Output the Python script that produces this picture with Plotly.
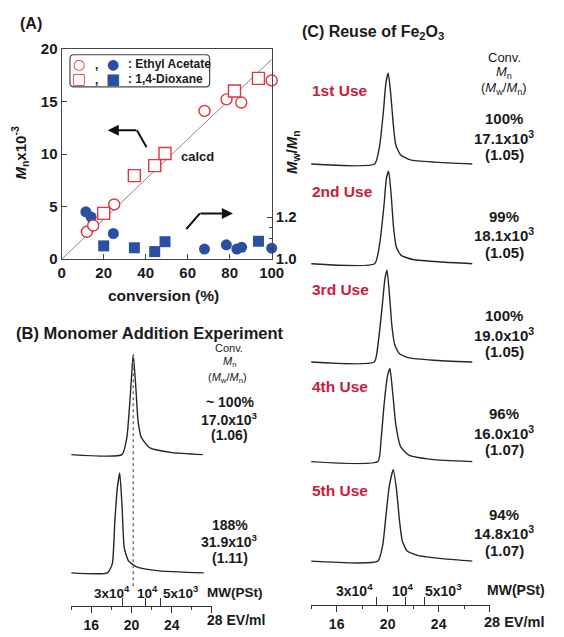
import plotly.graph_objects as go

W, H = 564, 637
def px(x): return x / W
def py(y): return 1 - y / H

F = "Liberation Sans, Arial, sans-serif"
TXT = "#1a1a1a"
RED = "#e0343f"
REDT = "#c8203a"
BLUE = "#2a4fa3"
AX = "#444444"

# ---------------- Panel A data ----------------
ea_conv_mn = [12, 15, 25, 68, 78.5, 85.5, 100]
ea_mn = [2.6, 3.2, 5.2, 14.1, 15.2, 14.9, 17.0]
dx_conv_mn = [20, 34.6, 44.3, 49.2, 82.3, 93.7]
dx_mn = [4.35, 7.95, 8.9, 10.05, 16.0, 17.2]
ea_conv_pdi = [11.5, 14, 24.6, 68, 78.4, 83.4, 85.7, 100]
ea_pdi = [1.225, 1.20, 1.122, 1.048, 1.068, 1.048, 1.056, 1.052]
dx_conv_pdi = [20, 34.6, 44.3, 49.2, 93.7]
dx_pdi = [1.063, 1.054, 1.036, 1.083, 1.085]
calcd_conv = [0, 100]
calcd_mn = [0, 19.0]
a_xticks = [0, 20, 40, 60, 80, 100]
a_yticks = [0, 5, 10, 15, 20]
a_y2ticks = [1.0, 1.2]

# ---------------- Panel B data (GPC, EV in mL, normalized RI) ----------------
b_top_ev = [14.0, 19.06, 19.54, 19.86, 20.08, 20.18, 20.44, 20.66, 20.99, 21.79, 24.04, 27.1]
b_top_i = [0, 0, 0.17, 0.56, 0.89, 1.0, 0.66, 0.33, 0.17, 0.07, 0.02, 0]
b_bot_ev = [14.0, 17.61, 18.09, 18.34, 18.58, 18.83, 19.06, 19.28, 19.70, 20.51, 22.76, 27.2]
b_bot_i = [0, 0, 0.09, 0.51, 0.84, 1.0, 0.67, 0.25, 0.12, 0.06, 0.02, 0]
b_texts = [["~ 100%", "17.0x10<sup>3</sup>", "(1.06)"],
           ["188%", "31.9x10<sup>3</sup>", "(1.11)"]]

# ---------------- Panel C data ----------------
c_ev = [
    [14.0, 18.98, 19.36, 19.67, 19.87, 20.05, 20.25, 20.44, 20.64, 21.02, 21.79, 23.70, 26.64],
    [14.0, 18.98, 19.38, 19.72, 19.90, 20.08, 20.28, 20.46, 20.68, 21.06, 22.00, 24.20, 26.64],
    [14.0, 18.95, 19.26, 19.57, 19.78, 19.95, 20.14, 20.33, 20.55, 20.93, 21.70, 23.60, 26.64],
    [14.0, 19.23, 19.48, 19.74, 19.99, 20.18, 20.39, 20.64, 21.02, 21.66, 23.47, 26.64],
    [14.0, 19.23, 19.62, 19.87, 20.13, 20.44, 20.69, 20.94, 21.15, 21.53, 22.43, 24.47, 26.64],
]
c_i = [
    [0, 0, 0.19, 0.58, 0.90, 1.0, 0.76, 0.44, 0.21, 0.10, 0.046, 0.021, 0],
    [0, 0, 0.22, 0.64, 0.92, 1.0, 0.74, 0.40, 0.18, 0.09, 0.045, 0.018, 0],
    [0, 0, 0.21, 0.60, 0.90, 1.0, 0.74, 0.40, 0.19, 0.09, 0.045, 0.020, 0],
    [0, 0, 0.23, 0.64, 0.92, 1.0, 0.75, 0.40, 0.16, 0.07, 0.024, 0],
    [0, 0, 0.18, 0.50, 0.82, 1.0, 0.79, 0.43, 0.22, 0.11, 0.06, 0.025, 0],
]
c_labels = ["1st Use", "2nd Use", "3rd Use", "4th Use", "5th Use"]
c_conv = ["100%", "99%", "100%", "96%", "94%"]
c_mn = ["17.1x10<sup>3</sup>", "18.1x10<sup>3</sup>", "19.0x10<sup>3</sup>",
        "16.0x10<sup>3</sup>", "14.8x10<sup>3</sup>"]
c_pdi = ["(1.05)", "(1.05)", "(1.05)", "(1.07)", "(1.07)"]

ev_major = [16, 20, 24, 28]
ev_major_text = ["16", "20", "24", ""]
ev_minor = [14, 18, 22, 26]
mw_ev = [19.1, 21.42, 22.9]
mw_text = ["3x10<sup>4</sup>", "10<sup>4</sup>", "5x10<sup>3</sup>"]

fig = go.Figure()

# ---- Panel A traces ----
fig.add_trace(go.Scatter(x=ea_conv_pdi, y=ea_pdi, xaxis="x", yaxis="y", mode="markers",
                         marker=dict(symbol="circle", size=11, color=BLUE), cliponaxis=False))
fig.add_trace(go.Scatter(x=dx_conv_pdi, y=dx_pdi, xaxis="x", yaxis="y", mode="markers",
                         marker=dict(symbol="square", size=11, color=BLUE), cliponaxis=False))
fig.add_trace(go.Scatter(x=calcd_conv, y=calcd_mn, xaxis="x", yaxis="y2", mode="lines",
                         line=dict(color="#8a8a8a", width=1)))
fig.add_trace(go.Scatter(x=ea_conv_mn, y=ea_mn, xaxis="x", yaxis="y2", mode="markers",
                         marker=dict(symbol="circle", size=11, color="white",
                                     line=dict(color=RED, width=1.4)), cliponaxis=False))
fig.add_trace(go.Scatter(x=dx_conv_mn, y=dx_mn, xaxis="x", yaxis="y2", mode="markers",
                         marker=dict(symbol="square", size=12, color="white",
                                     line=dict(color=RED, width=1.4)), cliponaxis=False))

# ---- Panel B traces ----
line_style = dict(color="#262626", width=1.4, shape="spline", smoothing=0.5)
fig.add_trace(go.Scatter(x=b_top_ev, y=b_top_i, xaxis="x3", yaxis="y3", mode="lines", line=line_style))
fig.add_trace(go.Scatter(x=b_bot_ev, y=b_bot_i, xaxis="x3", yaxis="y4", mode="lines", line=line_style))
fig.add_trace(go.Scatter(x=mw_ev, y=[0, 0, 0], xaxis="x4", yaxis="y4", mode="markers",
                         marker=dict(opacity=0), hoverinfo="skip"))

# ---- Panel C traces ----
for k in range(5):
    fig.add_trace(go.Scatter(x=c_ev[k], y=c_i[k], xaxis="x5", yaxis="y%d" % (5 + k),
                             mode="lines", line=line_style))
fig.add_trace(go.Scatter(x=mw_ev, y=[0, 0, 0], xaxis="x6", yaxis="y9", mode="markers",
                         marker=dict(opacity=0), hoverinfo="skip"))

tf = dict(family=F, size=15, color=TXT, weight="bold")
tf2 = dict(family=F, size=14, color=TXT, weight="bold")

def strip(b, p):
    h = b - p
    return [py(b + 0.03 * h), py(p - 0.03 * h)]

hidden = dict(visible=False, range=[-0.03, 1.03], fixedrange=True)

ev_axis = dict(range=[14, 28], tickvals=ev_major, ticktext=ev_major_text, ticks="outside",
               ticklen=6, tickwidth=1.2, tickcolor="#333",
               minor=dict(tickvals=ev_minor, ticks="outside", ticklen=3, tickwidth=1.2, tickcolor="#333"),
               showline=True, linecolor="#333", linewidth=1.2, showgrid=False, zeroline=False,
               tickfont=tf2, anchor="free")
mw_axis = dict(range=[14, 28], tickvals=mw_ev, ticks="inside", ticklen=8, tickwidth=1.2,
               tickcolor="#333", showticklabels=False, showline=False, showgrid=False,
               zeroline=False, anchor="free", side="bottom")

b_strips = [(457.8, 355.0), (579.3, 476.7)]
c_strips = [(159.3, 66.0), (261.7, 166.7), (362.7, 268.3), (465.0, 369.3), (567.3, 473.3)]

layout = dict(
    width=W, height=H, autosize=False, showlegend=False,
    margin=dict(l=0, r=0, t=0, b=0), paper_bgcolor="white", plot_bgcolor="white",
    xaxis=dict(domain=[px(59.5), px(276)], range=[0, 100], tickvals=a_xticks, ticks="inside",
               ticklen=5, tickwidth=1.2, tickcolor=AX, showline=True, linecolor=AX, linewidth=1.3,
               mirror=True, showgrid=False, zeroline=False, tickfont=tf, anchor="y"),
    yaxis=dict(domain=[py(257), py(41)], range=[1.0, 2.0], side="right", anchor="x",
               tickvals=a_y2ticks, ticktext=["1.0", "1.2"], ticks="inside", ticklen=5, tickwidth=1.2,
               tickcolor=AX, minor=dict(tickvals=[1.05, 1.1, 1.15], ticks="inside", ticklen=3,
                                        tickcolor=AX),
               showline=True, linecolor=AX, linewidth=1.3, showgrid=False, zeroline=False, tickfont=tf),
    yaxis2=dict(overlaying="y", side="left", anchor="x", range=[0, 20], tickvals=a_yticks,
                ticks="inside", ticklen=5, tickwidth=1.2, tickcolor=AX, showline=True,
                linecolor=AX, linewidth=1.3, showgrid=False, zeroline=False, tickfont=tf),
    xaxis3=dict(domain=[px(69.3), px(214.3)], position=py(613.3), **ev_axis),
    xaxis4=dict(overlaying="x3", position=py(613.3), **mw_axis),
    yaxis3=dict(domain=strip(*b_strips[0]), anchor="x3", **hidden),
    yaxis4=dict(domain=strip(*b_strips[1]), anchor="x3", **hidden),
    xaxis5=dict(domain=[px(316.7), px(500.7)], position=py(612.7), **ev_axis),
    xaxis6=dict(overlaying="x5", position=py(612.7), **mw_axis),
)
for k in range(5):
    layout["yaxis%d" % (5 + k)] = dict(domain=strip(*c_strips[k]), anchor="x5", **hidden)
fig.update_layout(**layout)

anns = []
def ann(x, y, text, size=14, color=TXT, xanchor="center", bold=True, angle=0, family=F):
    anns.append(dict(x=px(x), y=py(y), xref="paper", yref="paper", text=text, showarrow=False,
                     xanchor=xanchor, yanchor="middle", textangle=angle,
                     font=dict(family=family, size=size, color=color,
                               weight="bold" if bold else "normal")))

# Panel A texts
ann(14, 15, "(A)", size=16, xanchor="left")
ann(16, 148, "<i>M</i><sub>n</sub>x10<sup>-3</sup>", size=15, angle=-90)
ann(297, 147, "<i>M</i><sub>w</sub>/<i>M</i><sub>n</sub>", size=15, angle=-90)
ann(164, 294, "conversion (%)", size=15.5)
ann(200, 152, "calcd", size=13)
# legend box content
DJ = "DejaVu Sans"
ann(77, 57, "○", size=14, color=RED, bold=False, family=DJ)
ann(95, 58, ",", size=12)
ann(112, 57, "●", size=14, color=BLUE, bold=False, family=DJ)
ann(126, 57, ": Ethyl Acetate", size=12, xanchor="left")
ann(77, 72, "□", size=15, color=RED, bold=False, family=DJ)
ann(95, 73, ",", size=12)
ann(112, 72, "■", size=15, color=BLUE, bold=False, family=DJ)
ann(126, 72, ": 1,4-Dioxane", size=12, xanchor="left")

# arrows
anns.append(dict(x=px(107), y=py(124.5), xref="paper", yref="paper", ax=30, ay=0, text="",
                 showarrow=True, arrowhead=2, arrowsize=1.1, arrowwidth=2, arrowcolor="#111"))
anns.append(dict(x=px(236), y=py(210), xref="paper", yref="paper", ax=-34, ay=0, text="",
                 showarrow=True, arrowhead=2, arrowsize=1.1, arrowwidth=2, arrowcolor="#111"))

# Panel B texts
ann(10, 333, "(B) Monomer Addition Experiment", size=16.5, xanchor="left")
ann(232, 348, "Conv.", size=11, bold=False)
ann(232, 363, "<i>M</i><sub>n</sub>", size=11, bold=False)
ann(230, 379, "(<i>M</i><sub>w</sub>/<i>M</i><sub>n</sub>)", size=11, bold=False)
for (y0, lines) in zip([404, 530], b_texts):
    for j, t in enumerate(lines):
        ann(233, y0 + 17 * j, t, size=14)
for v, t, cx in zip(mw_ev, mw_text, [111, 148, 182]):
    ann(cx, 599, t, size=13.5)
ann(238, 599, "MW(PSt)", size=13.5)
ann(207, 628, "28 EV/ml", size=14, xanchor="left")

# Panel C texts
ann(305, 24, "(C) Reuse of Fe<sub>2</sub>O<sub>3</sub>", size=16, xanchor="left")
ann(516, 50, "Conv.", size=13, bold=False)
ann(516, 65, "<i>M</i><sub>n</sub>", size=13, bold=False)
ann(516, 82, "(<i>M</i><sub>w</sub>/<i>M</i><sub>n</sub>)", size=13, bold=False)
c_lab_y = [84, 187, 288, 388, 495]
c_txt_y = [113, 213, 315, 416, 519]
for k in range(5):
    ann(316, c_lab_y[k], c_labels[k], size=15.5, color=REDT, xanchor="left")
    ann(516, c_txt_y[k], c_conv[k], size=15)
    ann(516, c_txt_y[k] + 19, c_mn[k], size=15)
    ann(516, c_txt_y[k] + 37, c_pdi[k], size=15)
for v, t, cx in zip(mw_ev, mw_text, [361, 411.7, 453]):
    ann(cx, 597, t, size=14)
ann(528, 597, "MW(PSt)", size=14)
ann(493, 630, "28 EV/ml", size=14.5, xanchor="left")

# rounded legend frame (paper coords)
lx0, lx1, ly0, ly1, r = 68, 212, 47, 80, 4
def P(x, y): return "%.5f,%.5f" % (px(x), py(y))
legend_path = ("M " + P(lx0 + r, ly0) + " L " + P(lx1 - r, ly0) + " Q " + P(lx1, ly0) + " " + P(lx1, ly0 + r) +
               " L " + P(lx1, ly1 - r) + " Q " + P(lx1, ly1) + " " + P(lx1 - r, ly1) +
               " L " + P(lx0 + r, ly1) + " Q " + P(lx0, ly1) + " " + P(lx0, ly1 - r) +
               " L " + P(lx0, ly0 + r) + " Q " + P(lx0, ly0) + " " + P(lx0 + r, ly0) + " Z")

shapes = [
    dict(type="path", xref="paper", yref="paper", path=legend_path, line=dict(color="#444", width=1.2)),
    dict(type="line", xref="paper", yref="paper", x0=px(137), y0=py(124.5), x1=px(147), y1=py(142),
         line=dict(color="#111", width=2)),
    dict(type="line", xref="paper", yref="paper", x0=px(202), y0=py(210), x1=px(188), y1=py(226),
         line=dict(color="#111", width=2)),
    dict(type="line", xref="x3", yref="paper", x0=b_top_ev[5], x1=b_top_ev[5], y0=py(593), y1=py(356),
         line=dict(color="#777", width=1.5, dash="dot")),
]
fig.update_layout(annotations=anns, shapes=shapes)
fig.write_html("out.html", config={"displayModeBar": False},
               post_script="document.body.style.margin='0px';")
